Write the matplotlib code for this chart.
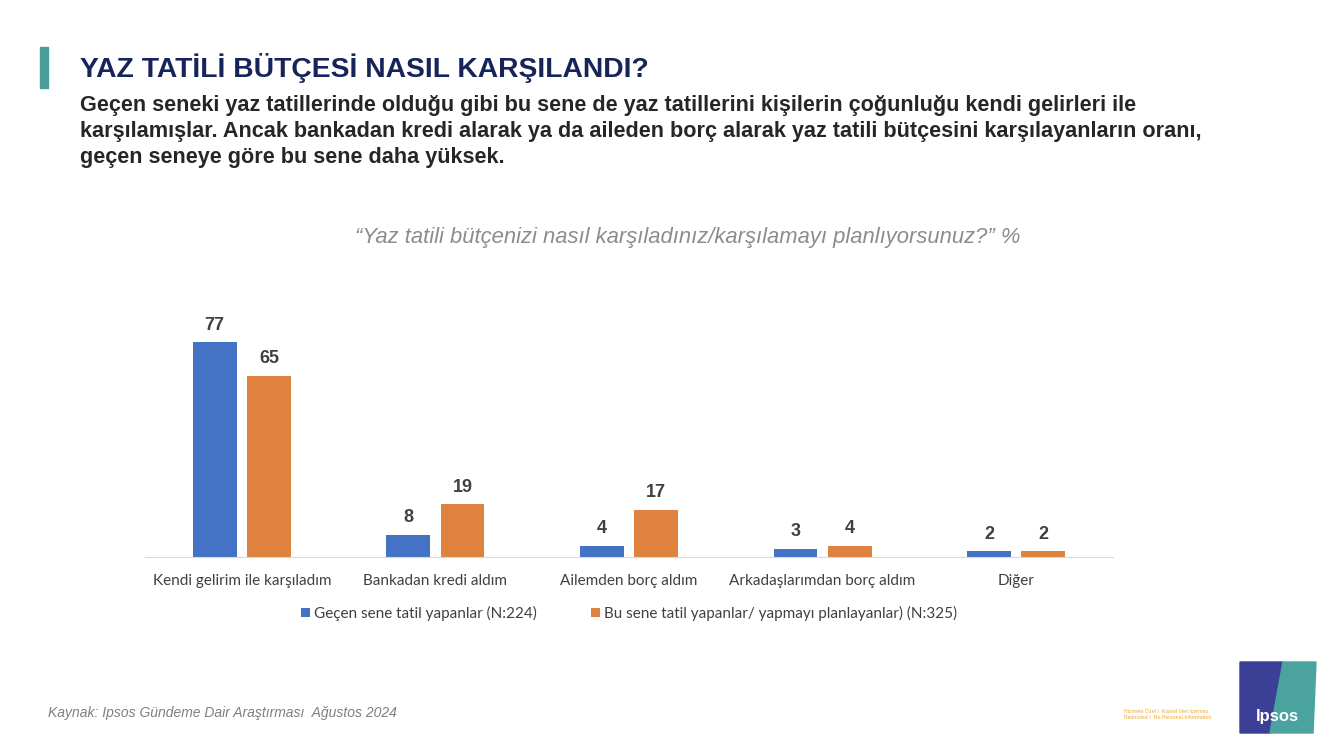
import numpy as np
import matplotlib.pyplot as plt
from matplotlib.patches import Rectangle, Polygon

plt.rcParams['font.family'] = ['Liberation Sans', 'DejaVu Sans']

# veriler
kategoriler = ['Kendi gelirim ile karşıladım', 'Bankadan kredi aldım', 'Ailemden borç aldım',
               'Arkadaşlarımdan borç aldım', 'Diğer']
gecen_sene = [77, 8, 4, 3, 2]
bu_sene = [65, 19, 17, 4, 2]
seri_adlari = ['Geçen sene tatil yapanlar (N:224)',
               'Bu sene tatil yapanlar/ yapmayı planlayanlar) (N:325)']

mavi = '#4472C4'
turuncu = '#E0823F'

W, H = 1332, 749
fig = plt.figure(figsize=(W / 100, H / 100), dpi=100)

# grafik alani
ax = fig.add_axes([145 / W, 1 - 557 / H, 968 / W, 251 / H])
x = np.arange(len(kategoriler))
w = 0.227
b1 = ax.bar(x - 0.14, gecen_sene, w, color=mavi, label=seri_adlari[0])
b2 = ax.bar(x + 0.14, bu_sene, w, color=turuncu, label=seri_adlari[1])
for bars in (b1, b2):
    for r in bars:
        ax.text(r.get_x() + r.get_width() / 2, r.get_height() + 3, str(int(r.get_height())),
                ha='center', va='bottom', fontsize=13, fontweight='bold', color='#404040')

ax.set_xlim(-0.5, len(kategoriler) - 0.5)
ax.set_ylim(0, 90)
ax.set_yticks([])
ax.set_xticks(x)
ax.set_xticklabels(kategoriler, fontsize=11, color='#404040', family=['Lato', 'DejaVu Sans'])
ax.tick_params(axis='x', length=0, pad=12)
for s in ['top', 'right', 'left']:
    ax.spines[s].set_visible(False)
ax.spines['bottom'].set_color('#D9D9D9')

ax.legend(loc='upper center', bbox_to_anchor=(0.5, -0.14), ncol=2, frameon=False,
          handlelength=0.6, handleheight=0.6, columnspacing=3.5,
          handletextpad=0.3, labelcolor='#404040',
          prop={'family': ['Lato', 'DejaVu Sans'], 'size': 11})

# basliklar
fig.patches.append(Rectangle((40 / W, 1 - 88 / H), 8 / W, 41 / H, transform=fig.transFigure,
                             color='#4A9E9A'))
fig.text(80 / W, 1 - 68 / H, 'YAZ TATİLİ BÜTÇESİ NASIL KARŞILANDI?', fontsize=20.3,
         fontweight='bold', color='#16245A', va='center')
alt_satirlar = ['Geçen seneki yaz tatillerinde olduğu gibi bu sene de yaz tatillerini kişilerin çoğunluğu kendi gelirleri ile',
                'karşılamışlar. Ancak bankadan kredi alarak ya da aileden borç alarak yaz tatili bütçesini karşılayanların oranı,',
                'geçen seneye göre bu sene daha yüksek.']
for i, satir in enumerate(alt_satirlar):
    fig.text(80 / W, 1 - (106 + 25.5 * i) / H, satir, fontsize=15.6, fontweight='bold',
             color='#262626', va='center')
fig.text(688 / W, 1 - 238 / H,
         '“Yaz tatili bütçenizi nasıl karşıladınız/karşılamayı planlıyorsunuz?” %',
         fontsize=15.8, style='italic', color='#8C8C8C', ha='center', va='center')

fig.text(48 / W, 1 - 713 / H, 'Kaynak: Ipsos Gündeme Dair Araştırması  Ağustos 2024',
         fontsize=10, style='italic', color='#7F7F7F', va='center')
fig.text(1124 / W, 1 - 714 / H, 'Hizmete Özel I  Kişisel Veri İçermez\nRestricted I  No Personal Information',
         fontsize=3.8, color='#F5A623', va='center', linespacing=1.3)

# logo
fig.patches.append(Polygon([(1240 / W, 1 - 662 / H), (1283 / W, 1 - 662 / H), (1270 / W, 1 - 733 / H),
                            (1240 / W, 1 - 733 / H)], closed=True, transform=fig.transFigure,
                           color='#3B3F96'))
fig.patches.append(Polygon([(1283 / W, 1 - 662 / H), (1316 / W, 1 - 662 / H), (1313 / W, 1 - 733 / H),
                            (1270 / W, 1 - 733 / H)], closed=True, transform=fig.transFigure,
                           color='#4BA3A0'))
fig.text(1277 / W, 1 - 716 / H, 'Ipsos', fontsize=12, fontweight='bold', color='white',
         ha='center', va='center')

fig.savefig('out.png', dpi=100)
